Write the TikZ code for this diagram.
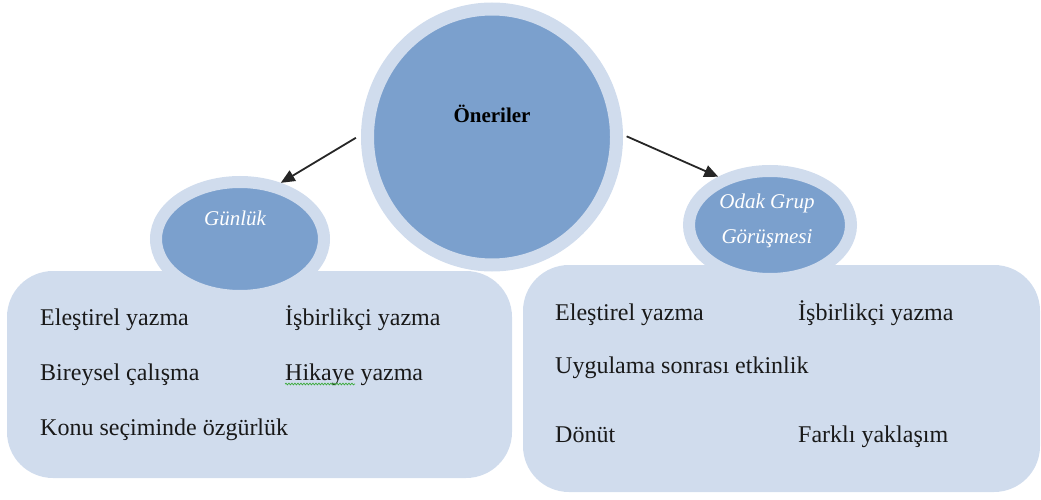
\documentclass[tikz,border=0pt]{standalone}
\usepackage{fontspec}
\setmainfont{Liberation Serif}
\usetikzlibrary{shapes.geometric,arrows.meta,decorations.pathmorphing}

\definecolor{ringblue}{RGB}{208,220,237}
\definecolor{coreblue}{RGB}{123,160,205}
\definecolor{inktext}{RGB}{25,25,25}
\definecolor{spellgreen}{RGB}{60,170,60}

\tikzset{
  panel/.style={rectangle, rounded corners=46pt, fill=ringblue, draw=none, inner sep=0pt},
  bubble/.style={ellipse, fill=coreblue, draw=ringblue, inner sep=0pt},
  itemtext/.style={anchor=base west, inner sep=0pt, text=inktext, font=\fontsize{24}{28}\selectfont},
  bubbletext/.style={anchor=base, inner sep=0pt, text=white, font=\fontsize{21}{25}\selectfont\itshape},
  pointer/.style={-{Triangle[length=14pt,width=12pt]}, line width=1.8pt, draw=black!85},
}

\begin{document}
\begin{tikzpicture}[x=1pt,y=-1pt]
\useasboundingbox (0,0) rectangle (1041,500);

% lower panels
\node[panel, minimum width=505pt, minimum height=207pt] (boxL) at (259.5,374.5) {};
\node[panel, minimum width=517pt, minimum height=227pt] (boxR) at (781.5,378.5) {};

% bubbles
\node[bubble, line width=13pt, minimum width=249pt, minimum height=256pt] (oneri) at (492,137) {};
\node[bubble, line width=12pt, minimum width=168pt, minimum height=114pt] (gunluk) at (240,239) {};
\node[bubble, line width=12pt, minimum width=162pt, minimum height=108pt] (odak) at (770,225) {};

% bubble titles
\node[anchor=base, inner sep=0pt, text=black, font=\fontsize{21}{25}\selectfont\bfseries] (tOneri) at (492,123) {Öneriler};
\node[bubbletext] (tGunluk) at (235,225) {Günlük};
\node[bubbletext] (tOdak1) at (767,208) {Odak Grup};
\node[bubbletext] (tOdak2) at (767,243) {Görüşmesi};

% connectors
\draw[pointer, shorten <=6pt] (oneri.179) -- (gunluk.54);
\draw[pointer, shorten <=4pt] (oneri.1) -- (odak.137);

% left panel items
\node[itemtext] (l1) at (40,325) {Eleştirel yazma};
\node[itemtext] (l2) at (285,325) {İşbirlikçi yazma};
\node[itemtext] (l3) at (40,380) {Bireysel çalışma};
\node[itemtext] (l4) at (285,380) {Hikaye yazma};
\node[itemtext] (l5) at (40,435) {Konu seçiminde özgürlük};
\draw[spellgreen, line width=0.7pt, decorate,
      decoration={snake, amplitude=0.9pt, segment length=3pt}]
  ([yshift=-4pt]l4.base west) -- ++(70,0);

% right panel items
\node[itemtext] (r1) at (555,320) {Eleştirel yazma};
\node[itemtext] (r2) at (798,320) {İşbirlikçi yazma};
\node[itemtext] (r3) at (555,373) {Uygulama sonrası etkinlik};
\node[itemtext] (r4) at (555,442) {Dönüt};
\node[itemtext] (r5) at (798,442) {Farklı yaklaşım};
\end{tikzpicture}
\end{document}
